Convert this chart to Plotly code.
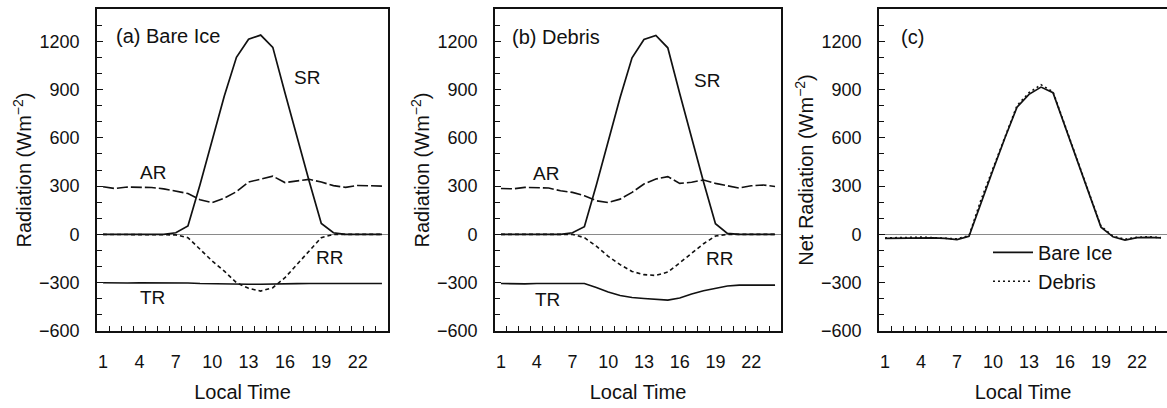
import plotly.graph_objects as go

# ---------------- data ----------------
hours = list(range(1, 25))

# (a) Bare ice
sr_bare = [0, 0, 0, 0, 0, 0, 10, 52, 310, 590, 860, 1100, 1212, 1238, 1162, 880, 600, 330, 68, 10, 0, 0, 0, 0]
ar_bare = [296, 285, 294, 293, 291, 283, 268, 254, 215, 197, 225, 265, 325, 345, 362, 322, 330, 342, 325, 303, 292, 304, 302, 300]
rr_bare = [0, 0, 0, 0, 0, 0, -3, -20, -93, -165, -228, -300, -335, -352, -331, -269, -186, -103, -20, 0, 0, 0, 0, 0]
tr_bare = [-300, -303, -302, -300, -300, -300, -300, -302, -305, -307, -308, -310, -310, -310, -310, -308, -306, -305, -305, -305, -305, -305, -305, -305]

# (b) Debris
sr_debris = [0, 0, 0, 0, 0, 0, 10, 48, 305, 585, 850, 1097, 1211, 1236, 1159, 875, 595, 325, 66, 6, 0, 0, 0, 0]
ar_debris = [285, 283, 292, 290, 288, 271, 261, 240, 209, 198, 219, 261, 313, 344, 359, 317, 324, 338, 317, 302, 288, 302, 307, 298]
rr_debris = [0, 0, 0, 0, 0, 0, 0, -20, -73, -136, -188, -230, -250, -255, -234, -177, -115, -58, -10, 0, 0, 0, 0, 0]
tr_debris = [-305, -308, -307, -305, -305, -303, -303, -305, -330, -358, -380, -392, -398, -404, -408, -395, -370, -350, -335, -320, -315, -315, -315, -315]

# (c) Net radiation
net_bare = [-25, -24, -20, -20, -22, -25, -32, -12, 200, 400, 600, 790, 870, 915, 880, 670, 460, 255, 45, -15, -35, -20, -18, -22]
net_debris = [-22, -20, -18, -17, -20, -22, -28, -8, 215, 410, 610, 800, 880, 930, 885, 675, 465, 260, 50, -10, -30, -18, -15, -20]

# ---------------- figure ----------------
W, H = 1167, 408
FONT = "Liberation Sans, Arial, sans-serif"
BLACK = "#111111"

fig = go.Figure()

def add_panel(xa, ya, sr, ar, rr, tr):
    fig.add_trace(go.Scatter(x=hours, y=rr, xaxis=xa, yaxis=ya, mode="lines",
                             line=dict(color=BLACK, width=1.6, dash="4px,3px"), showlegend=False))
    fig.add_trace(go.Scatter(x=hours, y=tr, xaxis=xa, yaxis=ya, mode="lines",
                             line=dict(color=BLACK, width=1.6), showlegend=False))
    fig.add_trace(go.Scatter(x=hours, y=ar, xaxis=xa, yaxis=ya, mode="lines",
                             line=dict(color=BLACK, width=1.6, dash="11px,3px"), showlegend=False))
    fig.add_trace(go.Scatter(x=hours, y=sr, xaxis=xa, yaxis=ya, mode="lines",
                             line=dict(color=BLACK, width=1.7), showlegend=False))

add_panel("x", "y", sr_bare, ar_bare, rr_bare, tr_bare)
add_panel("x2", "y2", sr_debris, ar_debris, rr_debris, tr_debris)

fig.add_trace(go.Scatter(x=hours, y=net_bare, xaxis="x3", yaxis="y3", mode="lines",
                         name="Bare Ice", line=dict(color=BLACK, width=1.7)))
fig.add_trace(go.Scatter(x=hours, y=net_debris, xaxis="x3", yaxis="y3", mode="lines",
                         name="Debris", line=dict(color=BLACK, width=1.6, dash="2px,3px")))

domains = [[97 / W, 388 / W], [495 / W, 781 / W], [879 / W, 1.0]]
ytitles = ["Radiation (Wm<sup>−2</sup>)", "Radiation (Wm<sup>−2</sup>)", "Net Radiation (Wm<sup>−2</sup>)"]

tickfont = dict(family=FONT, size=18, color=BLACK)
titlefont = dict(family=FONT, size=20, color=BLACK)
for i, dom in enumerate(domains):
    sfx = "" if i == 0 else str(i + 1)
    fig.update_layout(**{
        "xaxis" + sfx: dict(
            domain=dom, range=[0.5, 24.5], anchor="y" + sfx, automargin=False,
            tickmode="linear", tick0=1, dtick=3,
            ticks="inside", ticklen=5, tickcolor="rgba(0,0,0,0)",
            minor=dict(ticks="inside", tickmode="linear", tick0=0.5, dtick=1,
                       ticklen=5, tickwidth=1.3, tickcolor=BLACK),
            showgrid=False, zeroline=False, showline=True, mirror=True,
            linecolor=BLACK, linewidth=1.6, tickfont=tickfont,
            ticklabelstandoff=14,
            title=dict(text="Local Time", font=titlefont, standoff=14),
        ),
        "yaxis" + sfx: dict(
            domain=[0, 1], range=[-600, 1400], anchor="x" + sfx, automargin=False,
            tickmode="linear", tick0=0, dtick=300,
            ticks="inside", ticklen=6, tickwidth=1.3, tickcolor=BLACK,
            minor=dict(ticks="inside", tickmode="linear", tick0=0, dtick=100,
                       ticklen=5, tickwidth=1.3, tickcolor=BLACK),
            showgrid=False, zeroline=True, zerolinecolor="#8a8a8a", zerolinewidth=1,
            showline=True, mirror=True, linecolor=BLACK, linewidth=1.6,
            tickfont=tickfont, ticklabelstandoff=12,
            title=dict(text=ytitles[i], font=titlefont, standoff=2),
        ),
    })

def ann(xref, yref, x, y, text, xanchor="center", size=19):
    fig.add_annotation(x=x, y=y, xref=xref, yref=yref, text=text, showarrow=False,
                       xanchor=xanchor, yanchor="middle",
                       font=dict(family=FONT, size=size, color=BLACK))

ann("x", "y", 1.9, 1230, "(a) Bare Ice", "left", 20)
ann("x", "y", 17.8, 975, "SR")
ann("x", "y", 5.1, 385, "AR")
ann("x", "y", 19.7, -143, "RR")
ann("x", "y", 5.05, -391, "TR")

ann("x2", "y2", 1.75, 1225, "(b) Debris", "left", 20)
ann("x2", "y2", 18.3, 955, "SR")
ann("x2", "y2", 4.8, 380, "AR")
ann("x2", "y2", 19.3, -150, "RR")
ann("x2", "y2", 4.9, -403, "TR")

ann("x3", "y3", 2.2, 1225, "(c)", "left", 20)

fig.update_layout(
    width=W, height=H,
    margin=dict(l=0, r=0, t=9, b=77),
    paper_bgcolor="white", plot_bgcolor="white",
    font=dict(family=FONT, size=18, color=BLACK),
    showlegend=True,
    legend=dict(x=988 / W, xanchor="left", y=0.305, yanchor="top",
                xref="paper", yref="paper",
                bgcolor="rgba(0,0,0,0)", borderwidth=0,
                font=dict(family=FONT, size=20, color=BLACK),
                tracegroupgap=0, itemwidth=40),
)

fig.write_html("out.html", config={"displayModeBar": False},
               post_script="document.body.style.margin='0';")
